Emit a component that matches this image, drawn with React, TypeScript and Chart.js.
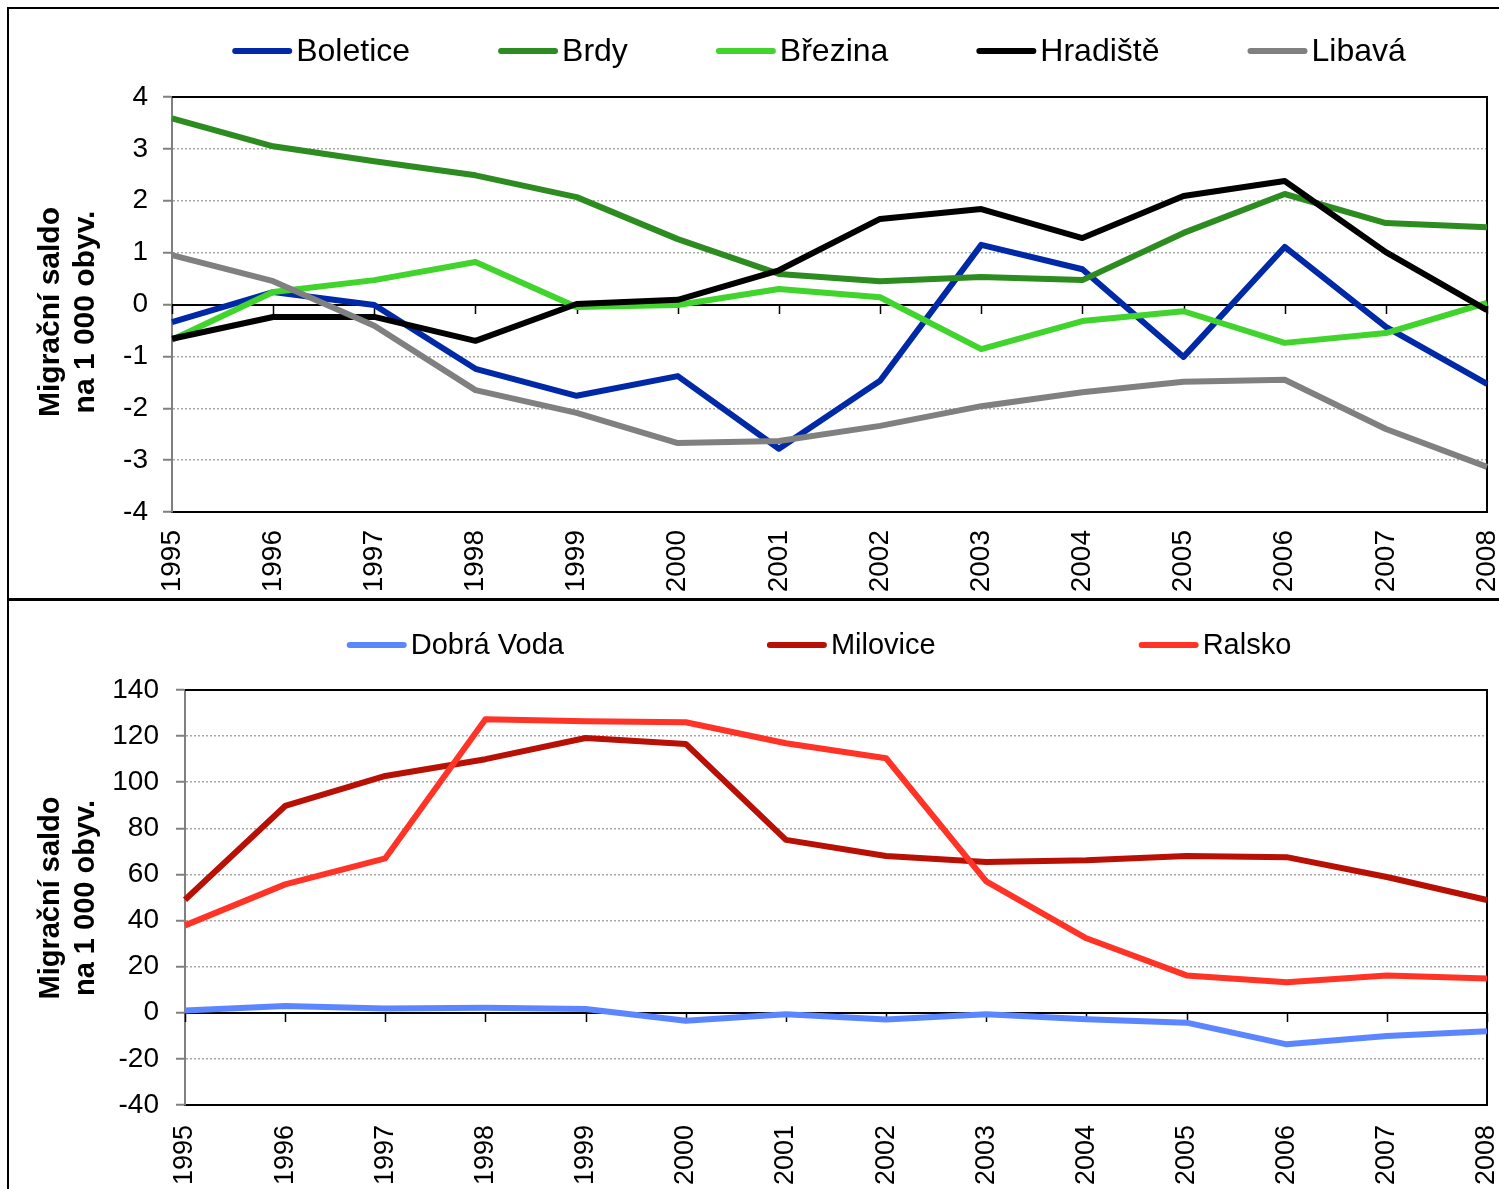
import React, { useEffect, useRef } from "react";
import { Chart, registerables } from "chart.js";

Chart.register(...registerables);

const years = ["1995","1996","1997","1998","1999","2000","2001","2002","2003","2004","2005","2006","2007","2008"];

// Top chart series
const boletice = [-0.34, 0.24, -0.01, -1.24, -1.76, -1.38, -2.78, -1.47, 1.15, 0.68, -1.01, 1.11, -0.43, -1.53];
const brdy = [3.59, 3.05, 2.76, 2.49, 2.07, 1.26, 0.59, 0.45, 0.53, 0.47, 1.38, 2.13, 1.57, 1.49];
const brezina = [-0.68, 0.24, 0.47, 0.82, -0.05, -0.01, 0.30, 0.14, -0.86, -0.32, -0.13, -0.74, -0.55, 0.03];
const hradiste = [-0.66, -0.24, -0.24, -0.70, 0.01, 0.09, 0.66, 1.65, 1.84, 1.28, 2.09, 2.38, 1.01, -0.11];
const libava = [0.95, 0.45, -0.41, -1.65, -2.09, -2.67, -2.63, -2.34, -1.96, -1.69, -1.49, -1.45, -2.40, -3.13];

// Bottom chart series
const dobraVoda = [1.0, 2.9, 1.9, 2.2, 1.6, -3.5, -0.6, -2.9, -0.6, -2.8, -4.3, -13.7, -10.1, -8.0];
const milovice = [49, 89.7, 102.7, 110, 119.2, 116.6, 75, 68, 65.4, 66.2, 68, 67.5, 58.9, 48.9];
const ralsko = [37.9, 55.7, 67, 127.3, 126.4, 126, 116.9, 110.4, 57, 32.3, 16.2, 13.2, 16.2, 14.9];

const topLabels = ["Boletice", "Brdy", "Březina", "Hradiště", "Libavá"];
const bottomLabels = ["Dobrá Voda", "Milovice", "Ralsko"];
const titleLines = ["Migrační saldo", "na 1 000 obyv."];

const FONT = '"Liberation Sans", Arial, sans-serif';

function framePlugin() {
  return {
    id: "frame",
    beforeDatasetsDraw(chart: any) {
      const { ctx, chartArea: a, scales } = chart;
      const x = scales.x, y = scales.y;
      ctx.save();
      ctx.strokeStyle = "#000";
      ctx.lineWidth = 2;
      ctx.setLineDash([]);
      ctx.beginPath();
      ctx.moveTo(a.left, a.top);
      ctx.lineTo(a.right, a.top);
      ctx.lineTo(a.right, a.bottom);
      ctx.stroke();
      const y0 = Math.round(y.getPixelForValue(0));
      ctx.beginPath();
      ctx.moveTo(a.left, y0);
      ctx.lineTo(a.right, y0);
      ctx.stroke();
      ctx.lineWidth = 1.5;
      ctx.beginPath();
      for (let i = 0; i < x.ticks.length; i++) {
        const px = Math.round(x.getPixelForTick(i)) + 0.5;
        ctx.moveTo(px, y0);
        ctx.lineTo(px, y0 + 9);
      }
      ctx.stroke();
      ctx.restore();
    },
  };
}

function legendPlugin(cx: number, cy: number, gap: number, size: number) {
  return {
    id: "customLegend",
    afterDraw(chart: any) {
      const ctx = chart.ctx;
      ctx.save();
      ctx.font = `${size}px ${FONT}`;
      const items = chart.data.datasets.map((ds: any) => ({
        label: ds.label,
        color: ds.borderColor,
        w: ctx.measureText(ds.label).width,
      }));
      const lineLen = 60, tgap = 4;
      const total =
        items.reduce((s: number, it: any) => s + lineLen + tgap + it.w, 0) + gap * (items.length - 1);
      let x = cx - total / 2;
      ctx.textBaseline = "middle";
      ctx.textAlign = "left";
      for (const it of items) {
        ctx.strokeStyle = it.color;
        ctx.lineWidth = 6;
        ctx.lineCap = "round";
        ctx.beginPath();
        ctx.moveTo(x + 3, cy);
        ctx.lineTo(x + lineLen - 3, cy);
        ctx.stroke();
        ctx.fillStyle = "#000";
        ctx.fillText(it.label, x + lineLen + tgap, cy + 1);
        x += lineLen + tgap + it.w + gap;
      }
      ctx.restore();
    },
  };
}

function titlePlugin(x1: number, x2: number, cy: number, size: number) {
  return {
    id: "yTitle",
    afterDraw(chart: any) {
      const ctx = chart.ctx;
      ctx.save();
      ctx.font = `bold ${size}px ${FONT}`;
      ctx.fillStyle = "#000";
      ctx.textAlign = "center";
      ctx.textBaseline = "middle";
      const xs = [x1, x2];
      titleLines.forEach((t, i) => {
        ctx.save();
        ctx.translate(xs[i], cy);
        ctx.rotate(-Math.PI / 2);
        ctx.fillText(t, 0, 0);
        ctx.restore();
      });
      ctx.restore();
    },
  };
}

type Cfg = {
  width: number;
  height: number;
  labels: string[];
  series: number[][];
  colors: string[];
  min: number;
  max: number;
  step: number;
  yWidth: number;
  top: number;
  xHeight: number;
  xPad: number;
  yPad: number;
  tickSize: number;
  xTickSize: number;
  legend: [number, number, number, number];
  title: [number, number, number, number];
};

function LineChart({ cfg }: { cfg: Cfg }) {
  const ref = useRef<HTMLCanvasElement | null>(null);
  useEffect(() => {
    if (!ref.current) return;
    const datasets = cfg.series.map((d, i) => ({
      label: cfg.labels[i],
      data: d,
      borderColor: cfg.colors[i],
      backgroundColor: cfg.colors[i],
      borderWidth: 6,
      pointRadius: 0,
      tension: 0,
      fill: false,
      borderJoinStyle: "round" as const,
      order: -i,
    }));
    const chart = new Chart(ref.current, {
      type: "line",
      data: { labels: years, datasets },
      options: {
        animation: false,
        responsive: false,
        layout: { padding: { top: cfg.top, right: 12, left: 0, bottom: 0 } },
        plugins: { legend: { display: false }, tooltip: { enabled: false } },
        scales: {
          x: {
            type: "category",
            offset: false,
            grid: { display: false },
            border: { display: true, color: "#000", width: 2 },
            ticks: {
              minRotation: 90,
              maxRotation: 90,
              autoSkip: false,
              padding: cfg.xPad,
              color: "#000",
              font: { family: FONT, size: cfg.xTickSize },
            },
            afterFit: (s: any) => {
              s.height = cfg.xHeight;
              s.paddingLeft = 0;
              s.paddingRight = 0;
            },
          },
          y: {
            min: cfg.min,
            max: cfg.max,
            grid: {
              color: (c: any) =>
                c.tick && (c.tick.value === cfg.min || c.tick.value === cfg.max || c.tick.value === 0)
                  ? "rgba(0,0,0,0)"
                  : "#a8a8a8",
              lineWidth: 1.5,
              tickLength: 9,
              tickColor: "#808080",
              tickWidth: 2,
              tickBorderDash: [],
            },
            border: { display: true, color: "#808080", width: 2, dash: [2, 2] },
            ticks: {
              stepSize: cfg.step,
              padding: cfg.yPad,
              color: "#000",
              font: { family: FONT, size: cfg.tickSize },
            },
            afterFit: (s: any) => {
              s.width = cfg.yWidth;
            },
          },
        },
      },
      plugins: [
        framePlugin(),
        legendPlugin(...cfg.legend),
        titlePlugin(...cfg.title),
      ],
    } as any);
    return () => chart.destroy();
  }, [cfg]);
  return (
    <canvas
      ref={ref}
      width={cfg.width}
      height={cfg.height}
      style={{ display: "block", width: cfg.width, height: cfg.height }}
    />
  );
}

const topCfg: Cfg = {
  width: 1490,
  height: 589,
  labels: topLabels,
  series: [boletice, brdy, brezina, hradiste, libava],
  colors: ["#0029a8", "#2d8c1f", "#40d42c", "#000000", "#808080"],
  min: -4,
  max: 4,
  step: 1,
  yWidth: 163,
  top: 88,
  xHeight: 86,
  xPad: 10,
  yPad: 15,
  tickSize: 28,
  xTickSize: 28,
  legend: [810, 42, 88, 32],
  title: [42, 76.5, 303, 30],
};

const bottomCfg: Cfg = {
  width: 1490,
  height: 588,
  labels: bottomLabels,
  series: [dobraVoda, milovice, ralsko],
  colors: ["#5b86ff", "#b81004", "#ff3326"],
  min: -40,
  max: 140,
  step: 20,
  yWidth: 176,
  top: 89,
  xHeight: 84,
  xPad: 12,
  yPad: 17,
  tickSize: 28,
  xTickSize: 27,
  legend: [810, 44, 203, 29],
  title: [42, 76.5, 297, 29],
};

export default function App() {
  return (
    <div
      style={{
        position: "absolute",
        left: 0,
        top: 0,
        width: 1499,
        height: 1189,
        overflow: "hidden",
        background: "#fff",
      }}
    >
      <div
        style={{
          position: "absolute",
          left: 7,
          top: 7,
          width: 1492,
          height: 591,
          boxSizing: "border-box",
          borderTop: "2px solid #000",
          borderLeft: "2px solid #000",
        }}
      >
        <LineChart cfg={topCfg} />
      </div>
      <div
        style={{
          position: "absolute",
          left: 7,
          top: 598,
          width: 1492,
          height: 591,
          boxSizing: "border-box",
          borderTop: "3px solid #000",
          borderLeft: "2px solid #000",
        }}
      >
        <LineChart cfg={bottomCfg} />
      </div>
    </div>
  );
}
